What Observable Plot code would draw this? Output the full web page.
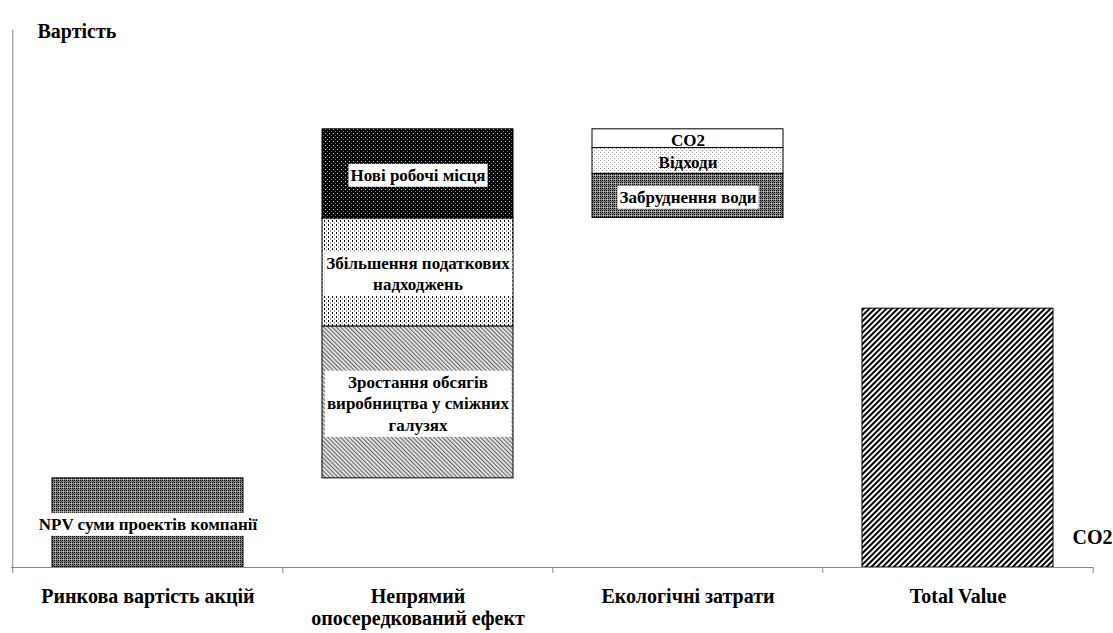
<!DOCTYPE html>
<html>
<head>
<meta charset="utf-8">
<script src="https://cdn.jsdelivr.net/npm/d3@7"></script>
<script src="https://cdn.jsdelivr.net/npm/@observablehq/plot@0.6"></script>
<style>
  html, body { margin: 0; padding: 0; background: #fff; }
</style>
</head>
<body>
<script>
// ---- data ----
const categories = ["Ринкова вартість акцій", "Непрямий\nопосередкований ефект", "Екологічні затрати", "Total Value"];
const segNames = [
  "NPV суми проектів компанії",
  "Зростання обсягів\nвиробництва у сміжних\nгалузях",
  "Збільшення податкових\nнадходжень",
  "Нові робочі місця",
  "CO2",
  "Відходи",
  "Забруднення води",
  "Total Value"
];
const segCategory = [0, 1, 1, 1, 2, 2, 2, 3];
const segValues = [16.6, 28.3, 20.1, 16.6, -3.5, -4.8, -8.2, 48.2];
const segIsTotal = [false, false, false, false, false, false, false, true];
const segPattern = ["pDark", "pGrowth", "pTaxes", "pJobs", "pWhite", "pWaste", "pDark", "pTotal"];
const segBoxed = [true, true, true, true, false, false, true, false];
const segLabeled = [true, true, true, true, true, true, true, false];
const yTitle = "Вартість";
const rightNote = "CO2";

// ---- build waterfall ----
let run = 0;
const segments = segNames.map((name, i) => {
  let y1, y2;
  if (segIsTotal[i]) { y1 = 0; y2 = segValues[i]; }
  else { y1 = run; y2 = run + segValues[i]; run = y2; }
  return {name, cat: categories[segCategory[i]], y1, y2, mid: (y1 + y2) / 2,
          fill: `url(#${segPattern[i]})`, boxed: segBoxed[i], labeled: segLabeled[i]};
});

const W = 1113, H = 633, mL = 11, mR = 20, mT = 30, mB = 66;
const step = (W - mL - mR) / categories.length;
const FONT = "Liberation Serif, Times New Roman, serif";

const plot = Plot.plot({
  width: W, height: H,
  marginLeft: mL, marginRight: mR, marginTop: mT, marginBottom: mB,
  style: {fontSize: "20px", color: "black", background: "white"},
  x: {domain: categories, paddingInner: 0.294, paddingOuter: 0.147},
  y: {domain: [0, 100], axis: null},
  color: {type: "identity"},
  marks: [
    Plot.barY(segments, {x: "cat", y1: "y1", y2: "y2", fill: "fill", stroke: "black", strokeWidth: 1}),
    Plot.ruleY([0], {stroke: "#888"}),
    Plot.ruleX([categories[0]], {x: d => d, dx: -step / 2, y1: 0, y2: 100, stroke: "#888"}),
    Plot.ruleX(categories, {x: d => d, dx: -step / 2, y1: 0, y2: -1.1, stroke: "#888"}),
    Plot.ruleX([categories[categories.length - 1]], {x: d => d, dx: step / 2, y1: 0, y2: -1.1, stroke: "#888"}),
    Plot.axisX({tickSize: 0, tickPadding: 20, fontSize: 20, lineHeight: 1.1, label: null, fill: "black"}),
    Plot.text(segments.filter(d => d.labeled && d.boxed), {x: "cat", y: "mid", text: "name", fontSize: 17, lineHeight: 1.27, fill: "black", ariaDescription: "boxed"}),
    Plot.text(segments.filter(d => d.labeled && !d.boxed), {x: "cat", y: "mid", text: "name", fontSize: 17, lineHeight: 1.27, fill: "black"}),
    Plot.text([yTitle], {frameAnchor: "top-left", dx: 26, dy: -7, textAnchor: "start", fontSize: 20, fill: "black"}),
    Plot.text([rightNote], {frameAnchor: "bottom-right", dx: -21, dy: -24, textAnchor: "start", fontSize: 20, fill: "black"})
  ]
});

const svg = plot.tagName.toLowerCase() === "svg" ? plot : plot.querySelector("svg");
svg.setAttribute("font-family", FONT);
svg.setAttribute("font-weight", "bold");
svg.querySelectorAll("text").forEach(t => { t.style.fontFamily = FONT; t.style.fontWeight = "bold"; });
document.body.append(plot);

svg.insertAdjacentHTML("afterbegin", `
<defs>
  <pattern id="pDark" width="4" height="4" patternUnits="userSpaceOnUse">
    <rect width="4" height="4" fill="#8c8c8c"/>
    <rect x="0" y="0" width="1" height="1" fill="#000"/>
    <rect x="2" y="0" width="1" height="1" fill="#000"/>
    <rect x="0" y="2" width="1" height="1" fill="#000"/>
    <rect x="2" y="2" width="1" height="1" fill="#000"/>
    <rect x="1" y="1" width="1" height="1" fill="#333"/>
    <rect x="3" y="3" width="1" height="1" fill="#d0d0d0"/>
  </pattern>
  <pattern id="pJobs" width="4" height="4" patternUnits="userSpaceOnUse">
    <rect width="4" height="4" fill="#000"/>
    <rect x="1" y="1" width="1" height="1" fill="#ddd"/>
    <rect x="3" y="3" width="1" height="1" fill="#777"/>
  </pattern>
  <pattern id="pTaxes" width="4" height="4" patternUnits="userSpaceOnUse">
    <rect width="4" height="4" fill="#fff"/>
    <rect x="0" y="0" width="1" height="2" fill="#000"/>
    <rect x="2" y="2" width="1" height="2" fill="#999"/>
  </pattern>
  <pattern id="pGrowth" width="3" height="3" patternUnits="userSpaceOnUse" patternTransform="rotate(-45)">
    <rect width="3" height="3" fill="#ececec"/>
    <rect x="0" y="0" width="1.2" height="3" fill="#666"/>
  </pattern>
  <pattern id="pWhite" width="4" height="4" patternUnits="userSpaceOnUse">
    <rect width="4" height="4" fill="#fff"/>
  </pattern>
  <pattern id="pWaste" width="4" height="4" patternUnits="userSpaceOnUse">
    <rect width="4" height="4" fill="#fff"/>
    <rect x="0" y="0" width="1" height="1" fill="#999"/>
    <rect x="2" y="2" width="1" height="1" fill="#999"/>
  </pattern>
  <pattern id="pTotal" width="4" height="4" patternUnits="userSpaceOnUse" patternTransform="rotate(45)">
    <rect width="4" height="4" fill="#fff"/>
    <rect x="0" y="0" width="2" height="4" fill="#000"/>
  </pattern>
</defs>`);

// white boxes behind boxed labels
svg.querySelectorAll('g[aria-description="boxed"] text').forEach(t => {
  const b = t.getBBox();
  const r = document.createElementNS("http://www.w3.org/2000/svg", "rect");
  r.setAttribute("x", b.x - 2);
  r.setAttribute("y", b.y - 2);
  r.setAttribute("width", b.width + 4);
  r.setAttribute("height", b.height + 4);
  r.setAttribute("fill", "#fff");
  if (t.getAttribute("transform")) r.setAttribute("transform", t.getAttribute("transform"));
  t.parentNode.insertBefore(r, t);
});
</script>
</body>
</html>
